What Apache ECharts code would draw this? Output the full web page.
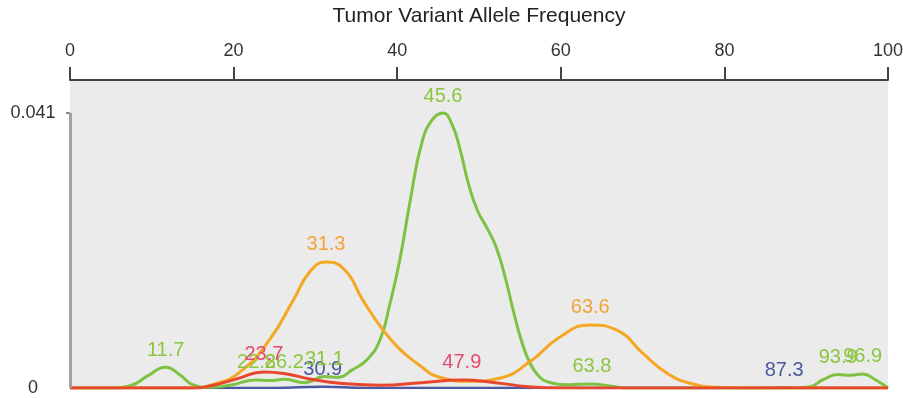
<!DOCTYPE html>
<html>
<head>
<meta charset="utf-8">
<script src="https://cdn.jsdelivr.net/npm/echarts@6/dist/echarts.min.js"></script>
<style>
  html, body { margin: 0; padding: 0; background: #fff; }
  #chart { width: 903px; height: 398px; }
</style>
</head>
<body>
<div id="chart"></div>
<script>
// Tumor VAF density curves, one per sample; peaks are labelled with their VAF.
const axisTitle = 'Tumor Variant Allele Frequency';
const yTickValues = [0, 0.041];

const greenVaf = [0, 5, 7.5, 9.5, 11.7, 13.5, 15, 17, 19.5, 22.8, 24.5, 26.2, 28.7, 31.1, 32.8, 34.5, 36.3, 37.9, 39.1, 40.3, 41.6, 43.0, 44.3, 45.6, 46.7, 47.7, 48.7, 49.8, 51.0, 52.1, 53.2, 54.2, 55.2, 56.2, 57.3, 58.5, 61, 63.8, 66, 68, 88, 90.5, 92, 93.9, 95.5, 96.9, 98.5, 100];
const greenDensity = [0, 0, 0.0004, 0.0018, 0.0031, 0.0019, 0.0005, 0.0001, 0.0004, 0.0012, 0.0011, 0.0013, 0.0008, 0.0017, 0.0016, 0.0027, 0.0042, 0.0072, 0.0125, 0.0190, 0.0280, 0.0365, 0.0400, 0.0410, 0.0393, 0.0355, 0.0305, 0.0265, 0.0238, 0.0210, 0.0165, 0.0115, 0.0070, 0.0038, 0.0018, 0.0009, 0.0005, 0.0006, 0.0003, 0, 0, 0.0002, 0.0012, 0.0020, 0.0019, 0.0021, 0.0012, 0];
const greenPeaks = [11.7, 22.8, 26.2, 31.1, 45.6, 63.8, 93.9, 96.9];

const orangeVaf = [0, 14.7, 17.7, 20.8, 24.4, 27.3, 29.3, 31.3, 33.6, 35.8, 38.3, 40.3, 42.4, 45.2, 48.9, 52.6, 56.2, 59.9, 63.6, 66.9, 70.0, 73.0, 75.8, 79.1, 82, 100];
const orangeDensity = [0, 0, 0.0006, 0.0024, 0.0072, 0.0131, 0.0173, 0.0188, 0.0176, 0.0131, 0.0086, 0.0058, 0.0037, 0.0016, 0.0010, 0.0015, 0.0039, 0.0076, 0.0094, 0.0086, 0.0052, 0.0022, 0.0007, 0.0001, 0, 0];
const orangePeaks = [31.3, 63.6];

const redVaf = [0, 15, 17.5, 20.5, 23.7, 26.5, 29.5, 33, 38, 43, 47.9, 52, 56, 60, 100];
const redDensity = [0, 0, 0.0004, 0.0014, 0.0024, 0.0021, 0.0013, 0.0007, 0.0004, 0.0008, 0.0012, 0.0008, 0.0002, 0, 0];
const redPeaks = [23.7, 47.9];

const blueVaf = [0, 25, 30.9, 36, 84, 87.3, 90, 100];
const blueDensity = [0, 0, 0.0002, 0, 0, 0.0001, 0, 0];
const bluePeaks = [30.9, 87.3];

function buildSeries(name, vaf, density, peaks, color, labelColor, width) {
  return {
    name: name,
    type: 'line',
    smooth: 0.5,
    symbol: 'circle',
    symbolSize: 0,
    showAllSymbol: true,
    lineStyle: { color: color, width: width },
    itemStyle: { color: color },
    label: {
      show: false,
      position: 'top',
      distance: 7,
      color: labelColor,
      fontSize: 20,
      fontFamily: 'Liberation Sans, Arial, sans-serif',
      formatter: p => p.value[0].toFixed(1)
    },
    emphasis: { disabled: true },
    data: vaf.map((v, i) => ({
      value: [v, density[i]],
      label: { show: peaks.indexOf(v) >= 0 }
    }))
  };
}

const blue = buildSeries('s4', blueVaf, blueDensity, bluePeaks, '#4b5aa0', '#4b5a9c', 2.5);
// left axis line only spans the labelled range
blue.markLine = {
  silent: true,
  symbol: ['none', 'none'],
  label: { show: false },
  lineStyle: { color: '#a0a0a0', width: 3, type: 'solid' },
  data: [[{ coord: [0, 0] }, { coord: [0, yTickValues[1]] }]]
};

const chart = echarts.init(document.getElementById('chart'));
chart.setOption({
  animation: false,
  textStyle: { fontFamily: 'Liberation Sans, Arial, sans-serif' },
  grid: {
    left: 70, right: 15, top: 80, bottom: 10,
    outerBoundsMode: 'none',
    containLabel: false,
    show: true, backgroundColor: '#ebebeb', borderWidth: 0
  },
  xAxis: {
    type: 'value',
    position: 'top',
    min: 0, max: 100, interval: 20,
    name: axisTitle,
    nameLocation: 'middle',
    nameGap: 53,
    nameTextStyle: { fontSize: 21, color: '#222' },
    axisLine: { show: true, onZero: false, lineStyle: { color: '#444', width: 2 } },
    axisTick: { show: true, length: 13, lineStyle: { color: '#444', width: 2 } },
    axisLabel: { fontSize: 18, color: '#333', margin: 20 },
    splitLine: { show: false }
  },
  yAxis: {
    type: 'value',
    min: 0, max: 0.04592,
    axisLine: { show: false },
    axisTick: { show: true, length: 4, customValues: [yTickValues[1]], lineStyle: { color: '#888', width: 2 } },
    axisLabel: {
      fontSize: 18, color: '#333', margin: 37, align: 'center',
      customValues: yTickValues,
      formatter: v => (v === 0 ? '0' : String(v))
    },
    splitLine: { show: false }
  },
  series: [
    blue,
    buildSeries('s1', greenVaf, greenDensity, greenPeaks, '#7dc242', '#8cc63f', 3),
    buildSeries('s2', orangeVaf, orangeDensity, orangePeaks, '#f5a623', '#f3a33a', 3),
    buildSeries('s3', redVaf, redDensity, redPeaks, '#e8472e', '#e64a6e', 3)
  ]
});
</script>
</body>
</html>
